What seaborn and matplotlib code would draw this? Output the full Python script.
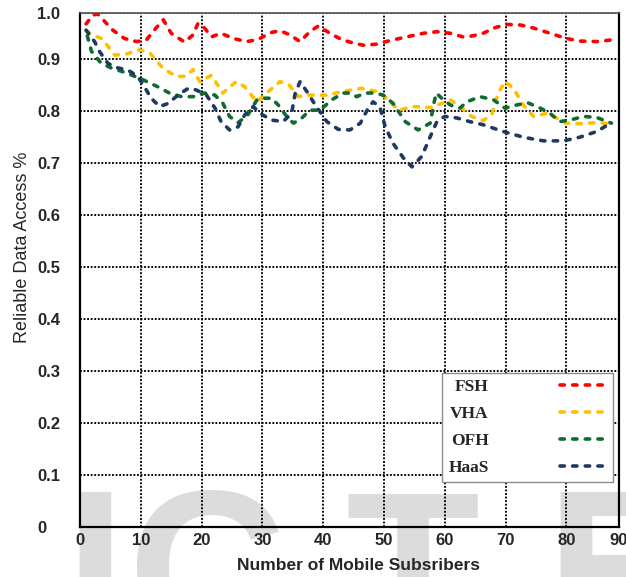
import numpy as np
import pandas as pd
import matplotlib
matplotlib.use('Agg')
import matplotlib.pyplot as plt
import seaborn as sns

# values
fsh_x = [1.0, 2.1, 2.9, 3.8, 5.4, 7.3, 9.3, 10.9, 12.5, 13.7, 15.0, 17.2, 18.6, 19.4, 20.5, 21.6,
         23.2, 25.2, 27.4, 29.3, 31.3, 32.9, 34.5, 36.2, 37.8, 39.2, 41.1, 43.0, 44.7, 46.6, 48.8,
         51.0, 53.7, 56.5, 58.7, 60.9, 63.0, 64.6, 66.3, 68.3, 70.2, 72.4, 74.6, 77.3, 80.0, 82.2,
         85.0, 88.0]
fsh_y = [.968, .985, .987, .976, .956, .940, .934, .937, .960, .976, .950, .933, .947, .969, .960, .943,
         .950, .940, .934, .938, .951, .955, .947, .934, .953, .964, .950, .938, .932, .927, .929,
         .936, .943, .950, .953, .950, .943, .945, .950, .961, .967, .966, .960, .950, .940, .935,
         .934, .938]

vha_x = [1.0, 2.2, 3.5, 4.6, 5.7, 7.6, 9.8, 11.5, 13.4, 14.8, 16.1, 17.3, 18.6, 19.7, 21.6, 23.5,
         25.7, 27.1, 29.1, 31.0, 32.9, 34.3, 35.9, 37.5, 40.6, 43.3, 46.3, 48.8, 50.4, 52.4, 54.8,
         57.6, 59.5, 60.9, 62.8, 64.4, 66.3, 67.7, 68.8, 69.9, 71.3, 72.9, 74.6, 76.8, 78.4, 80.0,
         82.2, 85.0, 87.4]
vha_y = [.955, .946, .940, .925, .908, .910, .918, .912, .886, .874, .867, .867, .880, .857, .869, .835,
         .857, .847, .818, .838, .857, .852, .828, .831, .831, .838, .844, .838, .825, .802, .809,
         .807, .815, .822, .806, .790, .782, .793, .835, .857, .844, .812, .790, .796, .787, .777,
         .776, .778, .776]

ofh_x = [1.2, 1.9, 3.5, 5.2, 7.3, 10.1, 12.8, 14.7, 16.7, 18.6, 20.5, 22.2, 23.5, 24.6, 26.0, 27.6,
         29.1, 30.4, 31.5, 32.6, 34.0, 35.1, 36.5, 37.8, 39.5, 41.4, 43.3, 44.4, 45.5, 46.9, 48.5,
         49.9, 51.5, 53.5, 55.6, 57.6, 58.2, 58.6, 59.4, 60.9, 62.5, 63.6, 65.8, 68.0, 69.9, 71.8,
         73.7, 75.7, 77.3, 78.9, 80.6, 82.8, 85.0, 87.4]
ofh_y = [.945, .915, .892, .883, .875, .862, .847, .835, .828, .828, .835, .831, .815, .790, .778, .793,
         .822, .825, .825, .812, .790, .777, .787, .802, .802, .822, .835, .835, .828, .835, .835,
         .831, .815, .780, .764, .777, .815, .835, .826, .812, .806, .818, .828, .822, .806, .812,
         .816, .806, .796, .780, .783, .790, .788, .777]

haas_x = [1.0, 2.4, 3.2, 4.6, 6.0, 7.9, 9.5, 10.6, 11.7, 13.1, 14.5, 16.1, 17.8, 19.1, 20.8, 22.2,
          23.2, 24.6, 26.0, 27.1, 28.5, 29.6, 31.5, 33.4, 34.8, 35.4, 36.2, 37.3, 38.7, 40.6, 42.5,
          44.4, 46.1, 47.4, 48.2, 49.3, 50.2, 51.5, 53.2, 54.6, 56.2, 57.6, 58.7, 60.0, 62.0, 64.1,
          66.3, 69.6, 72.9, 76.2, 79.5, 82.2, 85.0, 87.4]
haas_y = [.956, .934, .915, .892, .884, .879, .867, .847, .825, .809, .815, .831, .844, .841, .831, .806,
          .780, .764, .770, .793, .809, .796, .783, .780, .796, .835, .857, .838, .812, .780, .765,
          .764, .777, .806, .818, .809, .770, .738, .710, .693, .713, .751, .780, .790, .787, .780,
          .774, .761, .750, .743, .743, .750, .761, .778]

schemes = ['FSH', 'VHA', 'OFH', 'HaaS']
colors = ['#ff0000', '#ffc000', '#0f6b2f', '#1f3864']
x_ticks = [0, 10, 20, 30, 40, 50, 60, 70, 80, 88.65]
x_labels = ['0', '10', '20', '30', '40', '50', '60', '70', '80', '90']
y_ticks = [0, 0.1, 0.2, 0.3, 0.4, 0.5, 0.6, 0.7, 0.8, 0.9, 0.989]
y_labels = ['0', '0.1', '0.2', '0.3', '0.4', '0.5', '0.6', '0.7', '0.8', '0.9', '1.0']

frames = []
for name, xs, ys in zip(schemes, [fsh_x, vha_x, ofh_x, haas_x], [fsh_y, vha_y, ofh_y, haas_y]):
    frames.append(pd.DataFrame({'subs': xs, 'access': ys, 'scheme': name}))
df = pd.concat(frames, ignore_index=True)

sns.set_style('white')

fig = plt.figure(figsize=(6.26, 5.77), dpi=100)
ax = fig.add_axes([80 / 626, 1 - 527 / 577, 539 / 626, 514 / 577])
ax.set_facecolor('none')

# faint watermark behind the plot
for letter, lx in zip(['I', 'C', 'T', 'E'], [64, 128, 345, 545]):
    fig.text(lx / 626, 1 - 484 / 577, letter, fontsize=158, fontweight='bold', color='#dcdcdc',
             family='Liberation Sans', va='top', ha='left', zorder=-5)

sns.lineplot(data=df, x='subs', y='access', hue='scheme', style='scheme',
             hue_order=schemes, style_order=schemes,
             palette=dict(zip(schemes, colors)),
             dashes={s: (1.2, 2.3) for s in schemes},
             linewidth=2.6, dash_capstyle='round', legend=False, ax=ax, zorder=3)

ax.set_xlim(0, 88.65)
ax.set_ylim(0, 0.989)
ax.set_xticks(x_ticks)
ax.set_xticklabels(x_labels)
ax.set_yticks(y_ticks)
ax.set_yticklabels(y_labels)
ax.set_axisbelow(True)
ax.grid(True, color='black', linestyle=(0, (1, 0.9)), linewidth=1.35)
ax.tick_params(length=0)
ax.tick_params(axis='x', pad=4)
ax.tick_params(axis='y', pad=31)
for t in ax.get_xticklabels() + ax.get_yticklabels():
    t.set_fontfamily('Liberation Sans')
    t.set_fontweight('bold')
    t.set_fontsize(12)
for t in ax.get_yticklabels():
    t.set_ha('left')

for side in ['left', 'bottom', 'right']:
    ax.spines[side].set_color('black')
    ax.spines[side].set_linewidth(1.6)
ax.spines['top'].set_color('#555555')
ax.spines['top'].set_linewidth(1.2)

ax.set_xlabel('Number of Mobile Subsribers', fontsize=12.5, fontweight='bold', family='Liberation Sans')
ax.set_ylabel('Reliable Data Access %', fontsize=13, family='Liberation Sans')
ax.xaxis.set_label_coords(0.516, -0.06)
ax.yaxis.set_label_coords(-0.09, 0.545)

leg = ax.legend(ax.lines[:4], schemes, loc='upper left', bbox_to_anchor=(0.672, 0.30),
                borderaxespad=0, markerfirst=False, handlelength=2.7, handletextpad=4.1,
                labelspacing=0.62, borderpad=0.35, fancybox=False, framealpha=1,
                prop={'family': 'Liberation Serif', 'weight': 'bold', 'size': 12.5})
leg.get_frame().set_edgecolor('#8c8c8c')
leg.get_frame().set_linewidth(1.0)

plt.savefig('out.png', dpi=100)
